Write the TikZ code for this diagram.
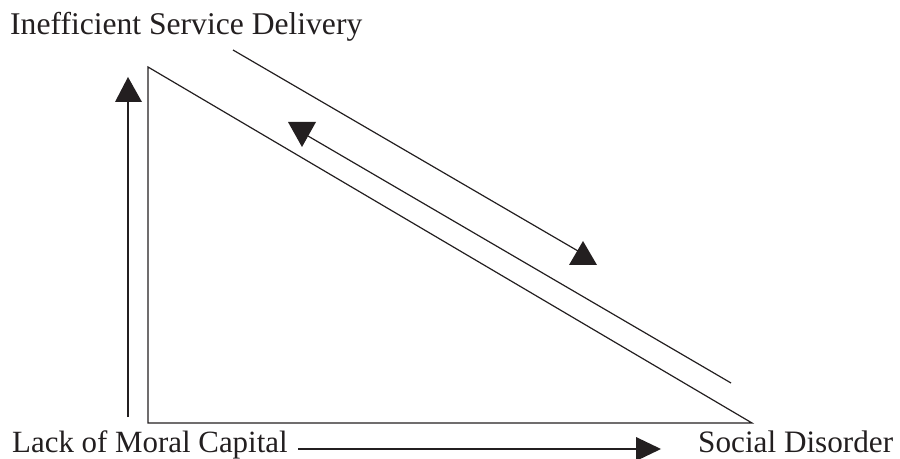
\documentclass[tikz,border=0pt]{standalone}
\usepackage{fontspec}
\setmainfont{Liberation Serif}
\definecolor{ink}{HTML}{231F20}
\begin{document}
\begin{tikzpicture}[x=1bp,y=-1bp,
  lbl/.style={anchor=base west,inner sep=0pt,text=ink,font=\fontsize{31.2bp}{36bp}\selectfont},
  ln/.style={draw=ink,line width=1.2bp},
  head/.style={fill=ink,draw=none}]
\useasboundingbox (0,0) rectangle (900,459);
% labels
\node[lbl,font=\fontsize{31.6bp}{36bp}\selectfont] (isd) at (10,35) {Inefficient Service Delivery};
\node[lbl,font=\fontsize{30.9bp}{36bp}\selectfont] (lmc) at (12,452) {Lack of Moral Capital};
\node[lbl] (sd) at (698,452) {Social Disorder};
% triangle
\coordinate (tA) at (148,67);
\coordinate (tB) at (148,423);
\coordinate (tC) at (752,423);
\draw[ln] (tA) -- (tB) -- (tC) -- cycle;
% left vertical arrow
\coordinate (vS) at (128,417);
\coordinate (vE) at (128,100);
\draw[ln] (vS) -- (vE);
\fill[head] (115,102) -- (142,102) -- (128,77) -- cycle;
% upper line with up-pointing head
\coordinate (uS) at (233,50);
\coordinate (uE) at (578,251);
\draw[ln] (uS) -- (uE);
\fill[head] (569,265) -- (597,265) -- (583,241) -- cycle;
% lower line with down-pointing head
\coordinate (mS) at (731,383);
\coordinate (mE) at (308,136);
\draw[ln] (mS) -- (mE);
\fill[head] (288,122) -- (316,122) -- (302,147) -- cycle;
% bottom arrow
\coordinate (bS) at (298,449);
\coordinate (bE) at (638,449);
\draw[ln] (bS) -- (bE);
\fill[head] (636,437) -- (636,461) -- (661,449) -- cycle;
\end{tikzpicture}
\end{document}
